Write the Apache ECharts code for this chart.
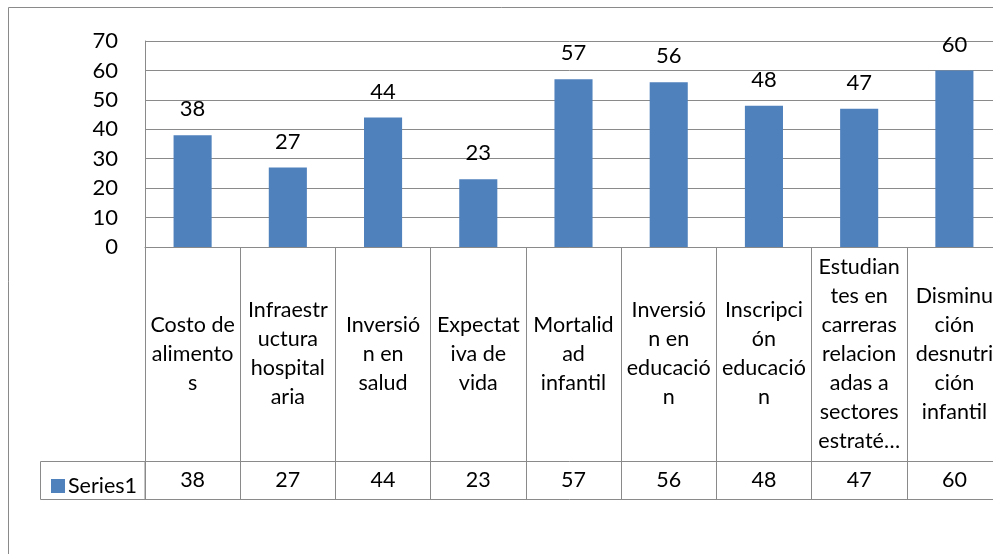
<!DOCTYPE html>
<html><head><meta charset="utf-8">
<script src="https://cdn.jsdelivr.net/npm/echarts@6/dist/echarts.min.js"></script>
<style>html,body{margin:0;padding:0;background:#fff}#c{width:993px;height:554px}</style>
</head><body><div id="c"></div>
<script>
// Category labels as displayed in the data table (wrapped as in the original)
const categories = [
  "Costo de\nalimento\ns",
  "Infraestr\nuctura\nhospital\naria",
  "Inversió\nn en\nsalud",
  "Expectat\niva de\nvida",
  "Mortalid\nad\ninfantil",
  "Inversió\nn en\neducació\nn",
  "Inscripci\nón\neducació\nn",
  "Estudian\ntes en\ncarreras\nrelacion\nadas a\nsectores\nestraté…",
  "Disminu\nción\ndesnutri\nción\ninfantil"
];
const seriesName = "Series1";
const values = [38, 27, 44, 23, 57, 56, 48, 47, 60];
const yTicks = { min: 0, max: 70, interval: 10 };

const FONT = "Lato, 'Open Sans', sans-serif";
const GRAY = "#8a8a8a";
const chart = echarts.init(document.getElementById('c'), null, {renderer: 'canvas'});
chart.setOption({
  animation: false,
  backgroundColor: '#fff',
  textStyle: { fontFamily: FONT, color: '#000' },
  grid: { left: 145, top: 41, height: 206, width: 857, outerBoundsMode: 'none', containLabel: false },
  legend: {
    left: 46, top: 470, itemWidth: 14, itemHeight: 14, itemGap: 4,
    icon: 'rect', data: [seriesName],
    textStyle: { fontFamily: FONT, fontSize: 21.5, color: '#000', padding: [0,0,0,-2] }
  },
  xAxis: [
    {
      type: 'category', data: categories, position: 'bottom',
      axisLine: { show: true, lineStyle: { color: GRAY, width: 1 } },
      axisTick: { show: true, length: 252, lineStyle: { color: GRAY, width: 1 } },
      axisLabel: { interval: 0, margin: 107, verticalAlign: 'middle', align: 'center',
        fontFamily: FONT, fontSize: 21.5, lineHeight: 29, color: '#000' }
    },
    {
      type: 'category', data: values.map(String), position: 'bottom', offset: 214,
      axisLine: { show: true, lineStyle: { color: GRAY, width: 1 } },
      axisTick: { show: false },
      axisLabel: { interval: 0, margin: 19, verticalAlign: 'middle',
        fontFamily: FONT, fontSize: 21.5, color: '#000' }
    },
    {
      type: 'category', data: values.map(String), position: 'bottom', offset: 252,
      axisLine: { show: true, lineStyle: { color: GRAY, width: 1 } },
      axisTick: { show: false }, axisLabel: { show: false }
    }
  ],
  yAxis: {
    type: 'value', min: yTicks.min, max: yTicks.max, interval: yTicks.interval,
    axisLine: { show: true, lineStyle: { color: GRAY, width: 1 } },
    axisTick: { show: false },
    splitLine: { lineStyle: { color: GRAY, width: 1 } },
    axisLabel: { margin: 27, fontFamily: FONT, fontSize: 22, color: '#000' }
  },
  series: [{
    name: seriesName, type: 'bar', data: values, barWidth: '40%',
    xAxisIndex: 0,
    itemStyle: { color: '#4F81BD' },
    label: { show: true, position: 'top', distance: 15, fontFamily: FONT, fontSize: 22, color: '#000' }
  }],
  graphic: [
    { type: 'rect', shape: { x: 8.5, y: 7.5, width: 1100, height: 700 },
      style: { fill: null, stroke: GRAY, lineWidth: 1 }, silent: true, z: -1 },
    { type: 'rect', shape: { x: 40.5, y: 461.5, width: 104.5, height: 38 },
      style: { fill: null, stroke: GRAY, lineWidth: 1 }, silent: true }
  ]
});
</script></body></html>
